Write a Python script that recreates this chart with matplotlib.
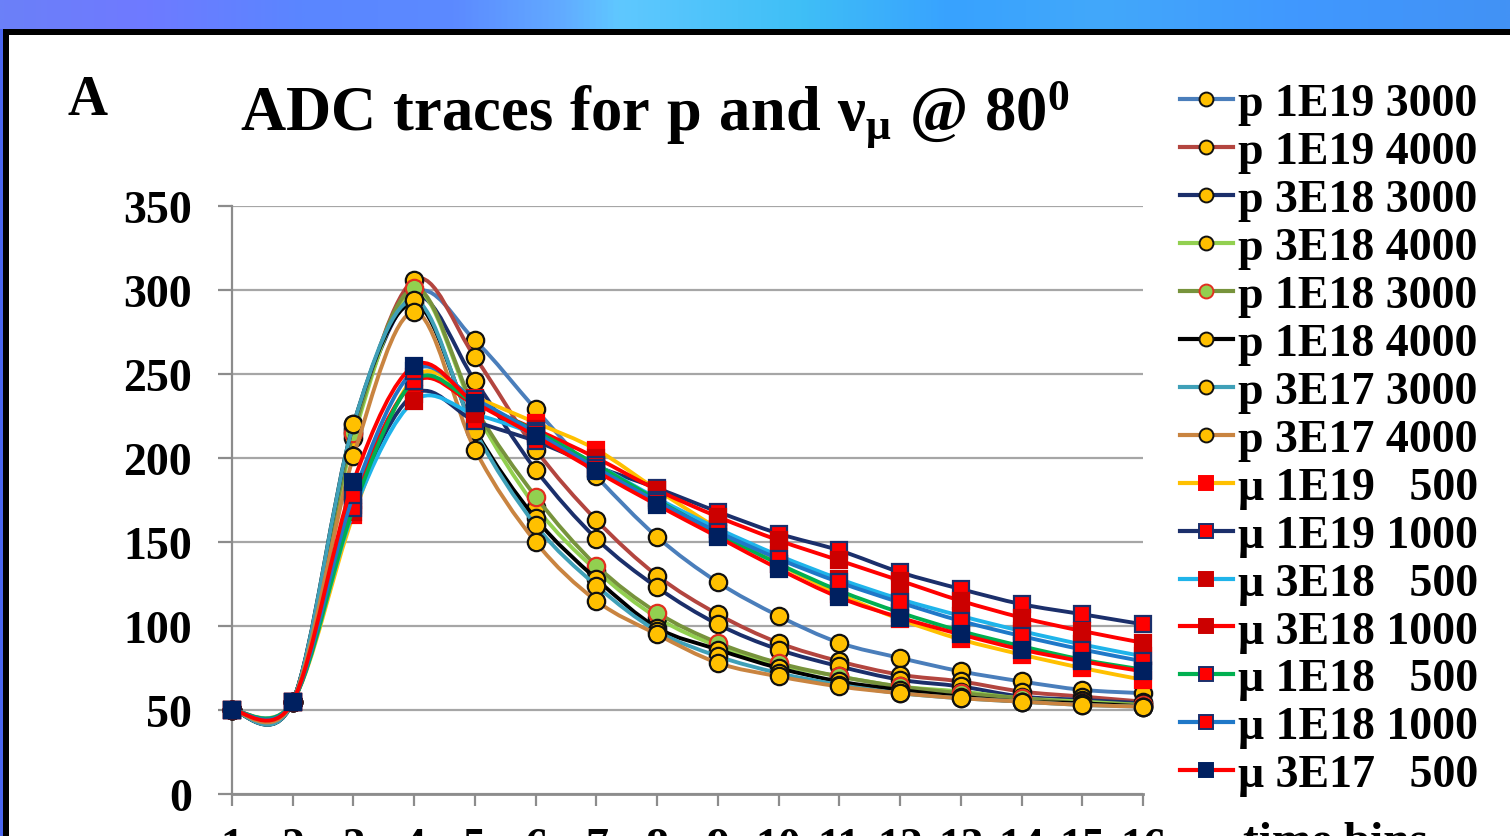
import numpy as np
import matplotlib
matplotlib.use("Agg")
import matplotlib.pyplot as plt
from matplotlib.path import Path
from matplotlib.patches import PathPatch, Rectangle
from matplotlib.lines import Line2D
from matplotlib.colors import LinearSegmentedColormap
from matplotlib.font_manager import FontProperties

# ---------------- data ----------------
time_bins = list(range(1, 17))
y_ticks = [0, 50, 100, 150, 200, 250, 300, 350]

series_labels = [
    "p 1E19 3000", "p 1E19 4000", "p 3E18 3000", "p 3E18 4000",
    "p 1E18 3000", "p 1E18 4000", "p 3E17 3000", "p 3E17 4000",
    "\u03bc 1E19   500", "\u03bc 1E19 1000", "\u03bc 3E18   500", "\u03bc 3E18 1000",
    "\u03bc 1E18   500", "\u03bc 1E18 1000", "\u03bc 3E17   500",
]

p_1e19_3000 = [50, 55, 218, 298, 270, 229, 189, 153, 126, 106, 90, 81, 73, 67, 62, 60]
p_1e19_4000 = [50, 55, 214, 306, 260, 205, 163, 130, 107, 90, 79, 71, 67, 61, 58, 55]
p_3e18_3000 = [50, 55, 216, 296, 246, 193, 152, 123, 101, 86, 76, 68, 64, 58, 56, 54]
p_3e18_4000 = [50, 55, 212, 300, 228, 171, 133, 105, 88, 77, 70, 64, 61, 57, 55, 53]
p_1e18_3000 = [50, 55, 215, 301, 230, 177, 136, 108, 90, 78, 70, 64, 60, 57, 54, 53]
p_1e18_4000 = [50, 55, 220, 292, 217, 164, 128, 99, 86, 75, 67, 62, 58, 55, 54, 52]
p_3e17_3000 = [50, 55, 220, 294, 216, 160, 124, 97, 82, 72, 65, 60, 57, 55, 53, 52]
p_3e17_4000 = [50, 55, 201, 287, 205, 150, 115, 95, 78, 70, 64, 60, 57, 55, 53, 52]

mu_1e19_500 = [50, 55, 166, 248, 236, 221, 205, 181, 158, 137, 119, 104, 92, 83, 75, 68]
mu_1e19_1000 = [50, 55, 172, 238, 222, 210, 195, 182, 168, 155, 145, 132, 122, 113, 107, 101]
mu_3e18_500 = [50, 55, 168, 234, 226, 214, 196, 176, 158, 142, 128, 116, 106, 97, 89, 82]
mu_3e18_1000 = [50, 55, 175, 245, 232, 217, 200, 181, 165, 151, 139, 127, 115, 105, 97, 90]
mu_1e18_500 = [50, 55, 170, 246, 233, 216, 196, 175, 155, 137, 121, 108, 97, 88, 80, 74]
mu_1e18_1000 = [50, 55, 178, 252, 235, 215, 194, 174, 156, 140, 126, 114, 103, 94, 86, 79]
mu_3e17_500 = [50, 55, 186, 255, 233, 213, 192, 172, 153, 134, 117, 105, 95, 86, 79, 73]

all_series = [
    p_1e19_3000, p_1e19_4000, p_3e18_3000, p_3e18_4000,
    p_1e18_3000, p_1e18_4000, p_3e17_3000, p_3e17_4000,
    mu_1e19_500, mu_1e19_1000, mu_3e18_500, mu_3e18_1000,
    mu_1e18_500, mu_1e18_1000, mu_3e17_500,
]

# ---------------- styles ----------------
GOLD = "#FFC000"
styles = [
    dict(lc="#4A7EBB", m="o", fc=GOLD, ec="#111111"),
    dict(lc="#B3453F", m="o", fc=GOLD, ec="#111111"),
    dict(lc="#1B2F6B", m="o", fc=GOLD, ec="#111111"),
    dict(lc="#92D050", m="o", fc=GOLD, ec="#111111"),
    dict(lc="#77933C", m="o", fc="#92D050", ec="#E03020"),
    dict(lc="#000000", m="o", fc=GOLD, ec="#111111"),
    dict(lc="#3FA0B8", m="o", fc=GOLD, ec="#111111"),
    dict(lc="#C98440", m="o", fc=GOLD, ec="#111111"),
    dict(lc="#FFC000", m="s", fc="#FF0000", ec="#FF0000"),
    dict(lc="#1B2F6B", m="s", fc="#FF0000", ec="#1B2F6B"),
    dict(lc="#1FB4EA", m="s", fc="#CC0000", ec="#CC0000"),
    dict(lc="#FF0000", m="s", fc="#CC0000", ec="#CC0000"),
    dict(lc="#00B050", m="s", fc="#FF0000", ec="#1B2F6B"),
    dict(lc="#1F78C8", m="s", fc="#FF0000", ec="#1B2F6B"),
    dict(lc="#FF0000", m="s", fc="#002060", ec="#002060"),
]

W, H = 1510, 837
plt.rcParams["font.family"] = ["Liberation Serif", "DejaVu Serif"]
plt.rcParams["font.weight"] = "bold"
plt.rcParams["mathtext.fontset"] = "custom"
plt.rcParams["mathtext.rm"] = "Liberation Serif:bold"
plt.rcParams["mathtext.it"] = "Liberation Serif:bold"
plt.rcParams["mathtext.bf"] = "Liberation Serif:bold"

fig = plt.figure(figsize=(W / 100, H / 100), dpi=100)
fig.patch.set_facecolor("white")


def fx(px):
    return px / W


def fy(py):
    return 1 - py / H


# top gradient banner
band = fig.add_axes([0, fy(30), 1, 30 / H])
cmap = LinearSegmentedColormap.from_list(
    "band",
    [(0.0, "#6B80F8"), (0.09, "#6F7AFF"), (0.2, "#5A86FF"), (0.3, "#5C8AFF"),
     (0.37, "#62AAFF"), (0.41, "#5FC8FF"), (0.53, "#3FBFF6"), (0.63, "#38A2FF"),
     (0.73, "#42A8FA"), (0.86, "#4098FF"), (1.0, "#4292F5")])
band.imshow(np.linspace(0, 1, 512)[None, :], aspect="auto", cmap=cmap,
            extent=[0, 1, 0, 1])
band.set_axis_off()

# frame of the white panel
fig.add_artist(Rectangle((0, 0), fx(3), fy(30), transform=fig.transFigure,
                         facecolor="#4A66F0", edgecolor="none"))
fig.add_artist(Rectangle((fx(3), 0), fx(6), fy(30), transform=fig.transFigure,
                         facecolor="black", edgecolor="none"))
fig.add_artist(Rectangle((fx(3), fy(36)), 1, 6 / H, transform=fig.transFigure,
                         facecolor="black", edgecolor="none"))

# ---------------- axes ----------------
ax = fig.add_axes([fx(232), fy(795), fx(1143) - fx(232), (795 - 207) / H])
ax.set_xlim(1, 16)
ax.set_ylim(0, 350)
ax.set_facecolor("none")

GRAY = "#8C8C8C"
ax.set_yticks(y_ticks)
ax.set_xticks(time_bins)
ax.set_xticklabels([str(t) for t in time_bins])
ax.grid(axis="y", color="#A6A6A6", lw=1.6)
ax.set_axisbelow(True)
for s in ["top", "right"]:
    ax.spines[s].set_visible(False)
ax.spines["left"].set_color(GRAY)
ax.spines["left"].set_linewidth(1.6)
ax.spines["bottom"].set_color(GRAY)
ax.spines["bottom"].set_linewidth(2.0)
ax.tick_params(axis="y", labelsize=33, length=10, width=1.6, color=GRAY, pad=19)
ax.tick_params(axis="x", labelsize=33, length=8.6, width=1.6, color=GRAY, pad=15.5)
for lab in ax.get_xticklabels() + ax.get_yticklabels():
    lab.set_fontweight("bold")


def smooth_path(xs, ys):
    pts = np.column_stack([xs, ys]).astype(float)
    n = len(pts)
    verts = [pts[0]]
    codes = [Path.MOVETO]
    for i in range(n - 1):
        p0 = pts[i - 1] if i > 0 else pts[i]
        p1 = pts[i]
        p2 = pts[i + 1]
        p3 = pts[i + 2] if i + 2 < n else pts[i + 1]
        c1 = p1 + (p2 - p0) / 6.0
        c2 = p2 - (p3 - p1) / 6.0
        verts += [c1, c2, p2]
        codes += [Path.CURVE4] * 3
    return Path(verts, codes)


handles = []
for k, (vals, st, lab) in enumerate(zip(all_series, styles, series_labels)):
    z = 3 + 2 * k
    patch = PathPatch(smooth_path(time_bins, vals), facecolor="none",
                      edgecolor=st["lc"], lw=2.8, zorder=z, transform=ax.transData,
                      capstyle="round", joinstyle="round")
    ax.add_patch(patch)
    ms = 12.5 if st["m"] == "o" else 11.5
    ax.plot(time_bins, vals, linestyle="none", marker=st["m"], ms=ms,
            mfc=st["fc"], mec=st["ec"], mew=1.6, zorder=z + 1, clip_on=False)
    handles.append(Line2D([], [], color=st["lc"], lw=3.0, marker=st["m"],
                          ms=10, mfc=st["fc"], mec=st["ec"], mew=1.4))

leg_font = FontProperties(family="Liberation Serif", weight="bold", size=33)
leg = ax.legend(handles, series_labels, loc="upper left",
                bbox_to_anchor=(fx(1180), fy(84)), bbox_transform=fig.transFigure,
                frameon=False, prop=leg_font, handlelength=1.15,
                handletextpad=0.12, labelspacing=0.128, borderpad=0,
                borderaxespad=0)

# ---------------- texts ----------------
ax.set_ylabel("signal amplitude (ADC units)", fontsize=34, fontweight="bold")
ylab = ax.yaxis.label
ylab.set_transform(fig.transFigure)
ylab.set_position((fx(75), fy(510)))
ylab.set_va("center")
ylab.set_ha("center")

fig.text(fx(655), fy(130), r"$\mathrm{ADC\ traces\ for\ p\ and\ \nu_{\mu}\ @\ 80^{0}}$",
         ha="center", va="baseline", fontsize=45)
fig.text(fx(68), fy(115), "A", ha="left", va="baseline", fontsize=40,
         fontweight="bold")
fig.text(fx(1243), fy(822), "time bins", ha="left", va="top", fontsize=34,
         fontweight="bold")

fig.savefig("out.png", dpi=100, facecolor="white")
